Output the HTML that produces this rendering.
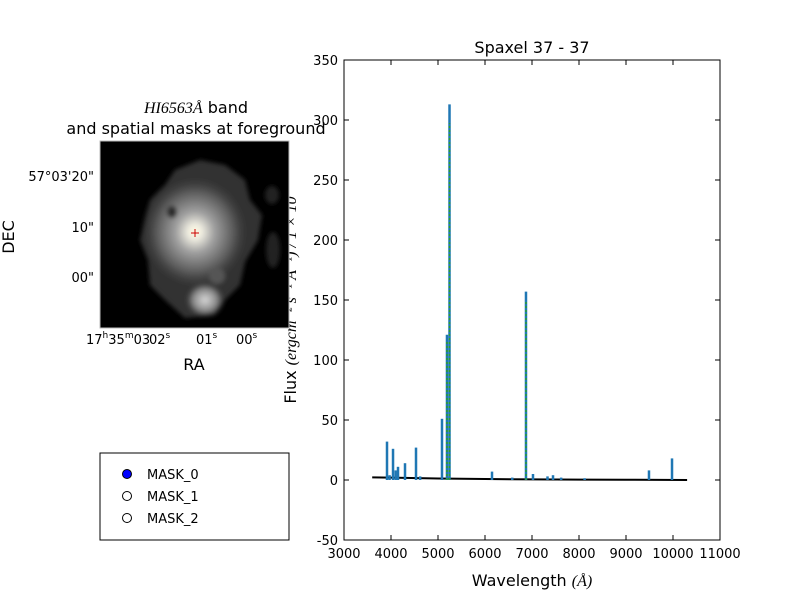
<!DOCTYPE html>
<html><head><meta charset="utf-8">
<style>
body{margin:0;background:#fff;}
svg{font-family:"DejaVu Sans","Liberation Sans",sans-serif;}
</style></head>
<body>
<svg id="fig" width="800" height="600" viewBox="0 0 800 600" xmlns="http://www.w3.org/2000/svg">
<rect width="800" height="600" fill="#fff"/>
<defs>
<radialGradient id="core" cx="50%" cy="50%" r="50%">
<stop offset="0" stop-color="#fff8dc"/><stop offset="0.12" stop-color="#f0eee2"/><stop offset="0.35" stop-color="#a0a0a0"/><stop offset="0.7" stop-color="#5a5a5a"/><stop offset="1" stop-color="#333" stop-opacity="0"/>
</radialGradient>
<radialGradient id="blob" cx="50%" cy="50%" r="50%">
<stop offset="0" stop-color="#d8d8d8"/><stop offset="0.6" stop-color="#888"/><stop offset="1" stop-color="#444" stop-opacity="0"/>
</radialGradient>
<filter id="blur"><feGaussianBlur stdDeviation="2"/></filter>
<clipPath id="imgclip"><rect x="100" y="141" width="189" height="187"/></clipPath>
</defs>

<text transform="translate(296,300) rotate(-90)" text-anchor="middle" font-size="16">Flux <tspan font-family="Liberation Serif" font-style="italic">(ergcm⁻² s⁻¹ Å⁻¹) / 1 × 10</tspan></text>

<g>
<text x="196" y="113" text-anchor="middle" font-size="16"><tspan font-family="Liberation Serif" font-style="italic">HI6563Å</tspan> band</text>
<text x="196" y="134" text-anchor="middle" font-size="16">and spatial masks at foreground</text>
<g clip-path="url(#imgclip)">
<rect x="100" y="141" width="189" height="187" fill="#000"/>
<g filter="url(#blur)">
<path d="M150,200 L165,185 L175,170 L200,160 L225,165 L245,180 L250,200 L262,215 L258,240 L245,262 L240,285 L225,300 L215,315 L185,318 L165,300 L150,285 L148,260 L140,240 L145,220 Z" fill="#303030"/>
<ellipse cx="195" cy="232" rx="55" ry="58" fill="url(#core)"/>
<ellipse cx="205" cy="300" rx="20" ry="18" fill="url(#blob)"/>
<ellipse cx="217" cy="276" rx="8" ry="8" fill="#555"/>
<ellipse cx="273" cy="250" rx="7" ry="18" fill="#222"/>
<ellipse cx="272" cy="195" rx="7" ry="9" fill="#222"/>
<ellipse cx="172" cy="212" rx="5" ry="6" fill="#2a2a2a"/>
</g>
</g>
<rect x="100" y="141" width="189" height="187" fill="none" stroke="#bbb" stroke-width="1"/>
<line x1="191" y1="233" x2="199" y2="233" stroke="#c00" stroke-width="1"/>
<line x1="195" y1="229" x2="195" y2="237" stroke="#c00" stroke-width="1"/>
<text x="94" y="181" text-anchor="end" font-size="13">57°03'20"</text>
<text x="94" y="232" text-anchor="end" font-size="13">10"</text>
<text x="94" y="282" text-anchor="end" font-size="13">00"</text>
<text transform="translate(14,237) rotate(-90)" text-anchor="middle" font-size="16">DEC</text>
<text x="86" y="344" font-size="13">17<tspan font-size="9" dy="-6">h</tspan><tspan dy="6">35</tspan><tspan font-size="9" dy="-6">m</tspan><tspan dy="6">03</tspan></text>
<text x="149" y="344" font-size="13">02<tspan font-size="9" dy="-6">s</tspan></text>
<text x="196" y="344" font-size="13">01<tspan font-size="9" dy="-6">s</tspan></text>
<text x="236" y="344" font-size="13">00<tspan font-size="9" dy="-6">s</tspan></text>
<text x="194" y="370" text-anchor="middle" font-size="16">RA</text>
</g>

<g>
<rect x="100" y="453" width="189" height="87" fill="#fff" stroke="#000" stroke-width="1"/>
<g><circle cx="127" cy="474" r="4.5" fill="#0000ff" stroke="#000"/><text x="147" y="479" font-size="13">MASK_0</text></g>
<g><circle cx="127" cy="496" r="4.5" fill="#fff" stroke="#000"/><text x="147" y="501" font-size="13">MASK_1</text></g>
<g><circle cx="127" cy="518" r="4.5" fill="#fff" stroke="#000"/><text x="147" y="523" font-size="13">MASK_2</text></g>
</g>

<g id="spec">
<text x="532" y="53" text-anchor="middle" font-size="16">Spaxel 37 - 37</text>
<text x="532" y="586" text-anchor="middle" font-size="16">Wavelength <tspan font-family="Liberation Serif" font-style="italic">(Å)</tspan></text>
<g id="marks"></g>
<rect x="344" y="60" width="376" height="480" fill="none" stroke="#000" stroke-width="1"/>
<g id="ticks"></g>
</g>
</svg>
<script>
const xTicks = [3000,4000,5000,6000,7000,8000,9000,10000,11000];
const yTicks = [-50,0,50,100,150,200,250,300,350];
const wavelengths = [3915,3970,4043,4100,4149,4298,4532,4620,5085,5191,5245,6149,6580,6872,7021,7330,7447,7620,8120,9489,9979];
const fluxes      = [32,4,26,8,11,14,27,3,51,121,313,7,2,157,5,3,4,2,1.5,8,18];
const baseline = [[3600,2.2],[4000,2],[5000,1.2],[6000,0.8],[7000,0.5],[8000,0.3],[9000,0.2],[10300,0]];
const NS="http://www.w3.org/2000/svg";
const X0=344,X1=720,Y0=540,Y1=60;
const xs=v=>X0+(v-3000)/(11000-3000)*(X1-X0);
const ys=v=>Y0-(v+50)/400*(Y0-Y1);
const ticks=document.getElementById('ticks'), marks=document.getElementById('marks');
function mk(tag,attrs,parent){const e=document.createElementNS(NS,tag);for(const k in attrs)e.setAttribute(k,attrs[k]);parent.appendChild(e);return e;}
xTicks.forEach(v=>{
  const x=xs(v);
  const t=mk('line',{x1:x,y1:Y0,x2:x,y2:Y0-5,stroke:'#000'},ticks);
  
  
  mk('line',{x1:x,y1:Y1,x2:x,y2:Y1+5,stroke:'#000'},ticks);
  const l=mk('text',{x:x,y:Y0+18,'text-anchor':'middle','font-size':13},ticks);
  l.textContent=v;
  
  
});
yTicks.forEach(v=>{
  const y=ys(v);
  mk('line',{x1:X0,y1:y,x2:X0+5,y2:y,stroke:'#000'},ticks);
  mk('line',{x1:X1,y1:y,x2:X1-5,y2:y,stroke:'#000'},ticks);
  const l=mk('text',{x:X0-6,y:y+5,'text-anchor':'end','font-size':13},ticks);
  l.textContent=v;
  
  
});
const bp=mk('polyline',{points:baseline.map(p=>xs(p[0])+','+ys(p[1])).join(' '),fill:'none',stroke:'#000','stroke-width':2},marks);


wavelengths.forEach((w,i)=>{
  const x=xs(w);
  const l=mk('line',{x1:x,y1:ys(0),x2:x,y2:ys(fluxes[i]),stroke:'#1f77b4','stroke-width':2.5},marks);
  
  
  if(fluxes[i]>100){
    const g=mk('line',{x1:x,y1:ys(0),x2:x,y2:ys(fluxes[i]*0.95),stroke:'#2ca02c','stroke-width':1.5,'stroke-dasharray':'2,2'},marks);
    
    
  }
});
</script>
</body></html>
